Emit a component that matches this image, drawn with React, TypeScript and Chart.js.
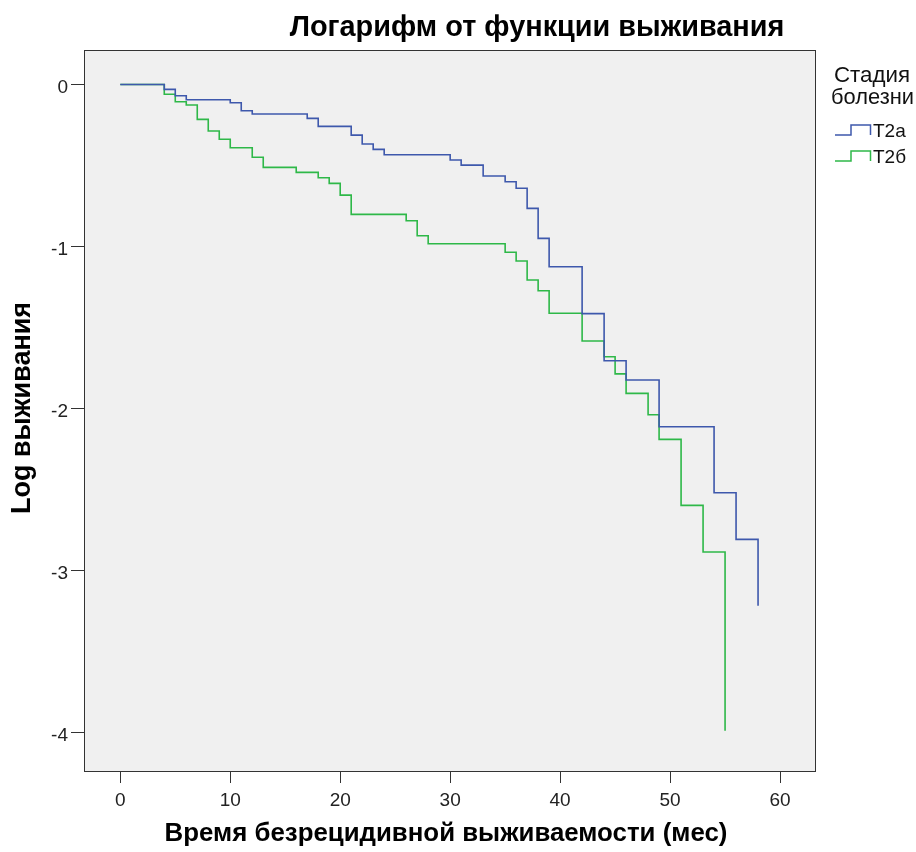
import { useEffect, useRef } from 'react';
import { Chart, registerables } from 'chart.js';

Chart.register(...registerables);

// ---- data ----
const t2aTimes = [0, 4, 5, 6, 10, 11, 12, 17, 18, 21, 22, 23, 24, 30, 31, 33, 35, 36, 37, 38, 39, 42, 44, 46, 49, 54, 56, 58];
const t2aLogSurv = [0, -0.030, -0.069, -0.094, -0.112, -0.162, -0.182, -0.209, -0.258, -0.312, -0.367, -0.400, -0.433, -0.466, -0.497, -0.564, -0.600, -0.640, -0.764, -0.949, -1.124, -1.413, -1.704, -1.823, -2.111, -2.518, -2.806, -3.215];

const t2bTimes = [0, 4, 5, 6, 7, 8, 9, 10, 12, 13, 16, 18, 19, 20, 21, 26, 27, 28, 35, 36, 37, 38, 39, 42, 44, 45, 46, 48, 49, 51, 53, 55];
const t2bLogSurv = [0, -0.060, -0.106, -0.126, -0.215, -0.287, -0.338, -0.390, -0.449, -0.511, -0.542, -0.575, -0.610, -0.682, -0.801, -0.840, -0.933, -0.982, -1.035, -1.089, -1.206, -1.272, -1.411, -1.582, -1.679, -1.785, -1.905, -2.037, -2.189, -2.596, -2.884, -3.986];

const seriesLabels = ['T2a', 'T2б'];
const seriesColors = ['#3E58AC', '#2EB848'];
const legendTitle = ['Стадия', 'болезни'];
const xTickValues = [0, 10, 20, 30, 40, 50, 60];
const yTickValues = [0, -1, -2, -3, -4];
const chartTitle = 'Логарифм от функции выживания';
const xTitle = 'Время безрецидивной выживаемости (мес)';
const yTitle = 'Log выживания';

const FONT = "'Liberation Sans', Arial, Helvetica, sans-serif";

function drawFitted(
  ctx: CanvasRenderingContext2D,
  text: string,
  cx: number,
  cy: number,
  targetW: number,
  weight: string,
  rotate = false,
  color = '#000'
) {
  ctx.save();
  ctx.font = `${weight} 100px ${FONT}`;
  const w = ctx.measureText(text).width;
  const size = (100 * targetW) / w;
  ctx.font = `${weight} ${size}px ${FONT}`;
  ctx.fillStyle = color;
  ctx.textAlign = 'center';
  ctx.textBaseline = 'middle';
  ctx.translate(cx, cy);
  if (rotate) ctx.rotate(-Math.PI / 2);
  ctx.fillText(text, 0, 0);
  ctx.restore();
}

const decorPlugin = {
  id: 'decor',
  beforeDraw(chart: any) {
    const { ctx, chartArea } = chart;
    ctx.save();
    ctx.fillStyle = '#ffffff';
    ctx.fillRect(0, 0, chart.width, chart.height);
    ctx.fillStyle = '#F0F0F0';
    ctx.fillRect(chartArea.left, chartArea.top, chartArea.right - chartArea.left, chartArea.bottom - chartArea.top);
    ctx.restore();
  },
  afterDraw(chart: any) {
    const { ctx, chartArea } = chart;
    ctx.save();
    ctx.strokeStyle = '#333';
    ctx.lineWidth = 1;
    ctx.strokeRect(chartArea.left + 0.5, chartArea.top + 0.5, chartArea.right - chartArea.left - 1, chartArea.bottom - chartArea.top - 1);
    ctx.restore();

    // y tick labels (slightly below their tick marks, as in the reference)
    const yScale = chart.scales.y;
    ctx.save();
    ctx.fillStyle = '#222';
    ctx.font = `19px ${FONT}`;
    ctx.textAlign = 'right';
    ctx.textBaseline = 'middle';
    yTickValues.forEach((v) => {
      ctx.fillText(String(v), 68, yScale.getPixelForValue(v) + 3);
    });
    ctx.restore();

    // titles
    drawFitted(ctx, chartTitle, 537, 28, 495, 'bold');
    drawFitted(ctx, xTitle, 446, 834, 563, 'bold');
    drawFitted(ctx, yTitle, 23, 408, 212, 'bold', true);

    // legend
    drawFitted(ctx, legendTitle[0], 872, 76, 76, 'normal', false, '#111');
    drawFitted(ctx, legendTitle[1], 872.5, 98, 83, 'normal', false, '#111');
    ctx.save();
    ctx.textBaseline = 'middle';
    ctx.textAlign = 'left';
    ctx.font = `19px ${FONT}`;
    const itemY = [130, 156];
    seriesLabels.forEach((lab, i) => {
      const yLow = itemY[i] + 5;
      const yHigh = itemY[i] - 5;
      ctx.strokeStyle = seriesColors[i];
      ctx.lineWidth = 1.5;
      ctx.beginPath();
      ctx.moveTo(835, yLow);
      ctx.lineTo(851, yLow);
      ctx.lineTo(851, yHigh);
      ctx.lineTo(870.5, yHigh);
      ctx.lineTo(870.5, yLow);
      ctx.stroke();
      ctx.fillStyle = '#111';
      ctx.fillText(lab, 873, itemY[i] + 1.5);
    });
    ctx.restore();
  },
};

export default function App() {
  const ref = useRef<HTMLCanvasElement | null>(null);

  useEffect(() => {
    if (!ref.current) return;
    const toPts = (xs: number[], ys: number[]) => xs.map((x, i) => ({ x, y: ys[i] }));
    const chart = new Chart(ref.current, {
      type: 'line',
      data: {
        datasets: [
          {
            label: seriesLabels[0],
            data: toPts(t2aTimes, t2aLogSurv),
            borderColor: seriesColors[0],
            borderWidth: 1.6,
            pointRadius: 0,
            stepped: true,
            fill: false,
          },
          {
            label: seriesLabels[1],
            data: toPts(t2bTimes, t2bLogSurv),
            borderColor: seriesColors[1],
            borderWidth: 1.6,
            pointRadius: 0,
            stepped: true,
            fill: false,
          },
        ],
      },
      options: {
        responsive: false,
        devicePixelRatio: 1,
        animation: false,
        layout: { padding: { top: 50, right: 100, left: 0, bottom: 0 } },
        plugins: { legend: { display: false }, title: { display: false }, tooltip: { enabled: false } },
        scales: {
          x: {
            type: 'linear',
            min: -3.3,
            max: 63.27,
            afterBuildTicks: (axis: any) => {
              axis.ticks = xTickValues.map((v) => ({ value: v }));
            },
            afterFit: (axis: any) => {
              axis.height = 80;
            },
            grid: { drawOnChartArea: false, drawTicks: true, tickLength: 11, color: '#333', lineWidth: 1 },
            border: { display: false },
            ticks: {
              font: { size: 19, family: FONT },
              color: '#222',
              padding: 6,
              maxRotation: 0,
              autoSkip: false,
            },
          },
          y: {
            type: 'linear',
            min: -4.241,
            max: 0.213,
            afterBuildTicks: (axis: any) => {
              axis.ticks = yTickValues.map((v) => ({ value: v }));
            },
            afterFit: (axis: any) => {
              axis.width = 84;
            },
            grid: { drawOnChartArea: false, drawTicks: true, tickLength: 13, color: '#333', lineWidth: 1 },
            border: { display: false },
            ticks: {
              display: false,
              autoSkip: false,
            },
          },
        },
      },
      plugins: [decorPlugin],
    });
    return () => chart.destroy();
  }, []);

  return (
    <div style={{ position: 'fixed', left: 0, top: 0, width: 916, height: 852, background: '#fff' }}>
      <canvas ref={ref} width={916} height={852} style={{ display: 'block', width: 916, height: 852 }} />
    </div>
  );
}
